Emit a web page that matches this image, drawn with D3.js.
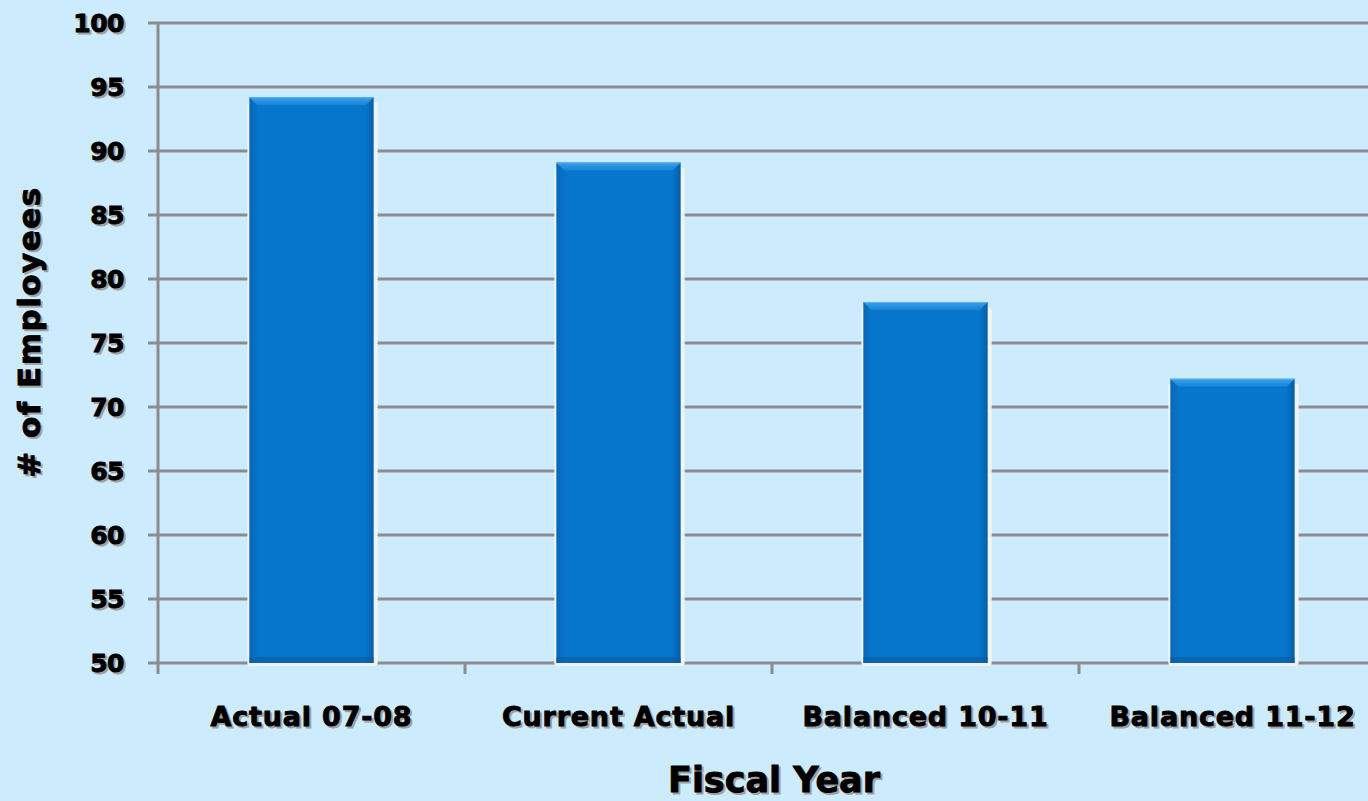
<!DOCTYPE html>
<html>
<head>
<meta charset="utf-8">
<script src="https://cdn.jsdelivr.net/npm/d3@7"></script>
<style>
  html, body { margin: 0; padding: 0; background: #CCEBFD; }
  svg { display: block; }
  .lbl { font-family: "DejaVu Sans", sans-serif; font-weight: bold; fill: #000; stroke: #000; stroke-width: 0.9px; }
  .shadow { fill: #a0a0a0; stroke: #a0a0a0; }
</style>
</head>
<body>
<svg id="chart" width="1368" height="801"></svg>
<script>
// Headcount per fiscal year
const categories = ["Actual 07-08", "Current Actual", "Balanced 10-11", "Balanced 11-12"];
const employees = [94.2, 89.1, 78.2, 72.2];
const yTicks = [50, 55, 60, 65, 70, 75, 80, 85, 90, 95, 100];

(function () {
const svg = d3.select("#chart");
const W = 1368, H = 801;
svg.append("rect").attr("width", W).attr("height", H).attr("fill", "#CCEBFD");

const plotLeft = 158, plotTop = 23, plotBottom = 663;
const bandW = 307;

const x = d3.scaleBand()
  .domain(categories)
  .range([plotLeft, plotLeft + bandW * categories.length])
  .paddingInner(0).paddingOuter(0);
const y = d3.scaleLinear().domain([50, 100]).range([plotBottom, plotTop]);

const defs = svg.append("defs");
const grad = defs.append("linearGradient").attr("id", "barFill")
  .attr("x1", 0).attr("x2", 1).attr("y1", 0).attr("y2", 0);
grad.append("stop").attr("offset", "0").attr("stop-color", "#0a66b4");
grad.append("stop").attr("offset", "0.07").attr("stop-color", "#0676cc");
grad.append("stop").attr("offset", "0.93").attr("stop-color", "#0676cc");
grad.append("stop").attr("offset", "1").attr("stop-color", "#075fa6");
const topGrad = defs.append("linearGradient").attr("id", "bevelTop")
  .attr("x1", 0).attr("x2", 0).attr("y1", 0).attr("y2", 1);
topGrad.append("stop").attr("offset", "0").attr("stop-color", "#3aa0ea");
topGrad.append("stop").attr("offset", "1").attr("stop-color", "#1683d8");

// Horizontal gridlines with short ticks on the left
const grid = svg.append("g");
grid.selectAll("line").data(yTicks).join("line")
  .attr("x1", plotLeft - 10).attr("x2", W)
  .attr("y1", d => y(d)).attr("y2", d => y(d))
  .attr("stroke", "#8c8c8c").attr("stroke-width", 3);

// Vertical axis line
svg.append("line")
  .attr("x1", plotLeft).attr("x2", plotLeft).attr("y1", plotTop - 1).attr("y2", plotBottom + 11)
  .attr("stroke", "#8c8c8c").attr("stroke-width", 3);

// Category boundary ticks below the baseline
const bounds = d3.range(categories.length + 1).map(i => plotLeft + i * bandW);
svg.append("g").selectAll("line").data(bounds.slice(1)).join("line")
  .attr("x1", d => d).attr("x2", d => d)
  .attr("y1", plotBottom).attr("y2", plotBottom + 11)
  .attr("stroke", "#8c8c8c").attr("stroke-width", 3);

// Bars
const barW = x.bandwidth() * 0.405;
const bars = svg.append("g").selectAll("g").data(categories).join("g")
  .attr("transform", (d) => `translate(${x(d) + (x.bandwidth() - barW) / 2},0)`);

// soft light shadow around each bar
bars.append("rect")
  .attr("x", -2).attr("width", barW + 6)
  .attr("y", (d, i) => y(employees[i]) + 5)
  .attr("height", (d, i) => plotBottom - y(employees[i]) - 2)
  .attr("rx", 3)
  .attr("fill", "#f2f4f6").attr("opacity", 0.95);

bars.append("rect")
  .attr("x", 0).attr("width", barW)
  .attr("y", (d, i) => y(employees[i]))
  .attr("height", (d, i) => plotBottom - y(employees[i]))
  .attr("fill", "url(#barFill)");

// bevelled top edge
const bev = 8;
bars.append("path")
  .attr("d", (d, i) => {
    const t = y(employees[i]);
    return `M0,${t} L${barW},${t} L${barW - bev},${t + bev} L${bev},${t + bev} Z`;
  })
  .attr("fill", "url(#bevelTop)");
bars.append("line")
  .attr("x1", 0).attr("x2", barW)
  .attr("y1", (d, i) => y(employees[i]) + 0.5).attr("y2", (d, i) => y(employees[i]) + 0.5)
  .attr("stroke", "#56b0f0").attr("stroke-width", 1);
// darker bottom edge
bars.append("rect")
  .attr("x", 0).attr("width", barW)
  .attr("y", plotBottom - 6).attr("height", 6)
  .attr("fill", "#0b5a99").attr("opacity", 0.6);

// Text helper with a grey drop shadow
function shadowText(g, xPos, yPos, str, size, anchor, rotate, spacing) {
  [[2, 2, "lbl shadow"], [0, 0, "lbl"]].forEach(([dx, dy, cls]) => {
    g.append("text").attr("class", cls)
      .attr("x", xPos + dx).attr("y", yPos + dy)
      .attr("transform", rotate ? `rotate(-90,${xPos + dx},${yPos + dy})` : null)
      .attr("text-anchor", anchor).attr("font-size", size)
      .attr("letter-spacing", spacing || 0)
      .text(str);
  });
}

// Y tick labels
const yl = svg.append("g");
yTicks.forEach(t => shadowText(yl, 124, y(t) + 9, String(t), 25, "end", false, -0.5));

// Category labels
const xl = svg.append("g");
categories.forEach(c => shadowText(xl, x(c) + x.bandwidth() / 2, 726, c, 27, "middle", false, 0.8));

// Axis titles
shadowText(svg.append("g"), 774, 792, "Fiscal Year", 35, "middle", false, 0);
shadowText(svg.append("g"), 40, 332, "# of Employees", 31, "middle", true, 1.5);
})();
</script>
</body>
</html>
